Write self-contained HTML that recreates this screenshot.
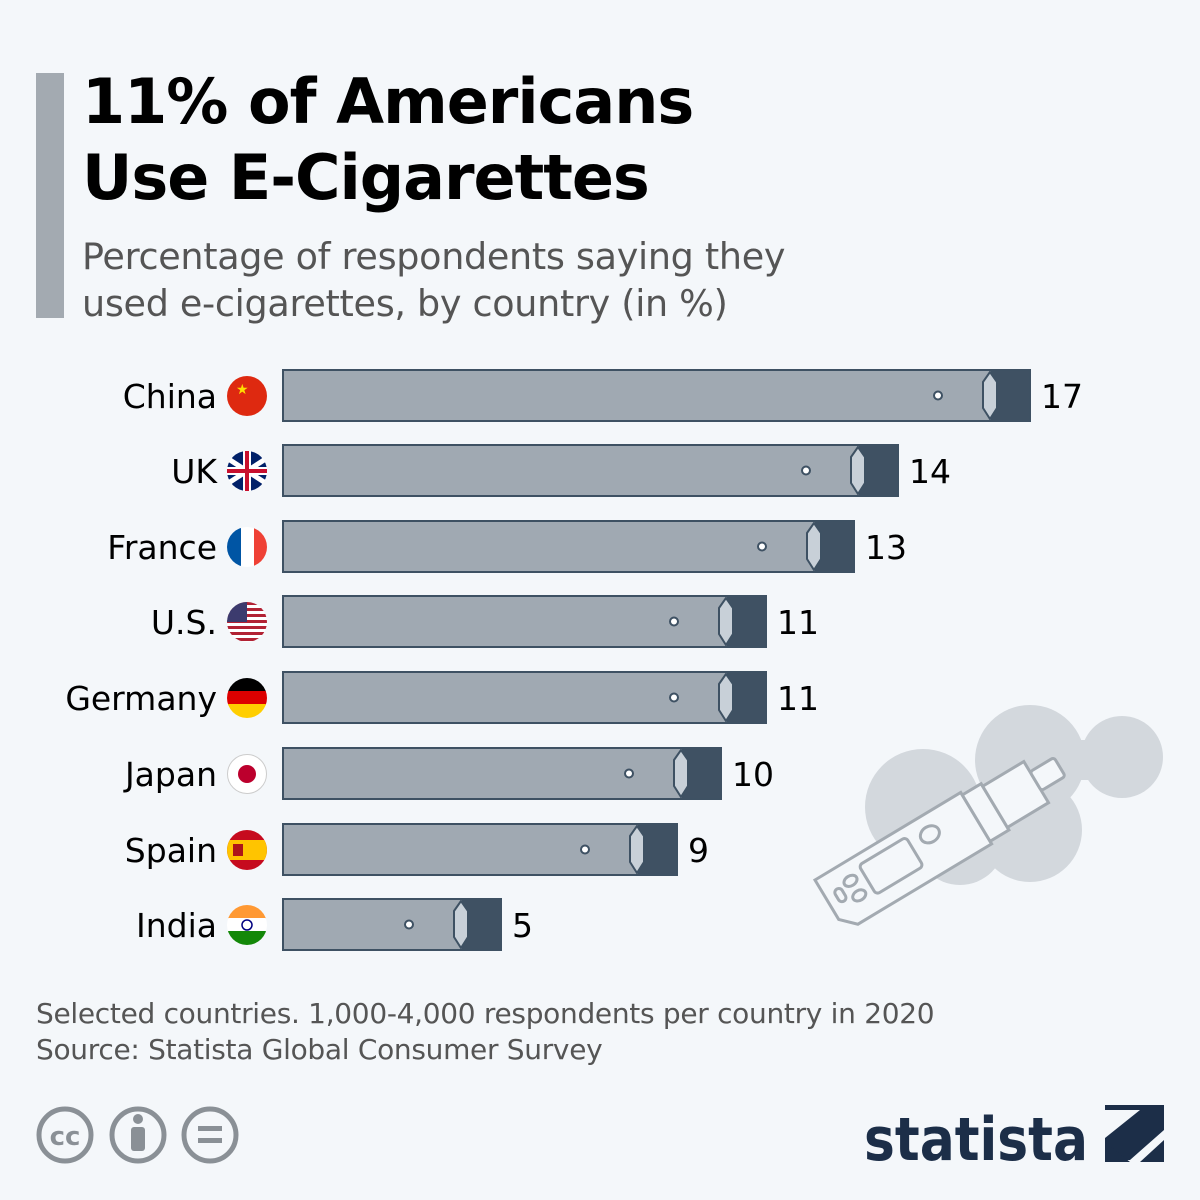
<!DOCTYPE html>
<html><head><meta charset="utf-8"><style>
body{margin:0;width:1200px;height:1200px;background:#f4f7fa;font-family:"Liberation Sans","DejaVu Sans",sans-serif;position:relative;overflow:hidden}
.t{position:absolute;left:82px;top:64px;font-size:62px;font-weight:bold;line-height:76px;color:#000;font-family:"DejaVu Sans","Liberation Sans",sans-serif;letter-spacing:-1px}
.s{position:absolute;left:82px;top:233px;font-size:36.5px;line-height:47px;color:#555;font-family:"DejaVu Sans","Liberation Sans",sans-serif;letter-spacing:-0.3px}
.bar{position:absolute;left:36px;top:73px;width:28px;height:245px;background:#a3aab1}
.f{position:absolute;left:36px;top:996px;font-size:28px;line-height:36px;color:#555;font-family:"DejaVu Sans","Liberation Sans",sans-serif;letter-spacing:-0.3px}
</style></head><body>
<div class="bar"></div>
<div class="t">11% of Americans<br>Use E-Cigarettes</div>
<div class="s">Percentage of respondents saying they<br>used e-cigarettes, by country (in %)</div>
<svg width="1200" height="1200" style="position:absolute;left:0;top:0" font-family="DejaVu Sans, Liberation Sans, sans-serif">
<g fill="#d3d8dd">
<circle cx="923" cy="807" r="58"/><circle cx="1030" cy="760" r="55"/><circle cx="1122" cy="757" r="41"/><circle cx="1030" cy="830" r="52"/><circle cx="960" cy="840" r="45"/><rect x="1030" y="740" width="90" height="40"/>
</g>
<g transform="translate(815,880) rotate(-31)" fill="#f4f7fa" stroke="#a3aab1" stroke-width="3">
<path d="M0,0 L170,0 L170,60 L14,60 L0,46 Z"/>
<rect x="10" y="19" width="8" height="14" rx="4"/>
<ellipse cx="30" cy="19" rx="7" ry="5"/><ellipse cx="30" cy="36" rx="7" ry="5"/>
<rect x="45" y="10" width="55" height="34" rx="4"/>
<ellipse cx="122" cy="20" rx="10" ry="8"/>
<rect x="170" y="3" width="22" height="54"/>
<rect x="192" y="6" width="48" height="48"/>
<rect x="240" y="18" width="28" height="22" rx="3"/>
</g>
<g font-size="33" fill="#000" text-anchor="end">
<text x="217" y="408">China</text><text x="217" y="483">UK</text><text x="217" y="559">France</text><text x="217" y="634">U.S.</text><text x="217" y="710">Germany</text><text x="217" y="786">Japan</text><text x="217" y="862">Spain</text><text x="217" y="937">India</text>
</g>
<g>
<circle cx="247" cy="396" r="20" fill="#de2910"/><text x="236" y="394" font-size="14" fill="#ffde00">★</text>
<circle cx="247" cy="471" r="20" fill="#012169"/><path d="M230,460 L264,482 M230,482 L264,460" stroke="#fff" stroke-width="5"/><path d="M227,471 H267 M247,451 V491" stroke="#fff" stroke-width="8"/><path d="M227,471 H267 M247,451 V491" stroke="#c8102e" stroke-width="4"/>
<clipPath id="c3"><circle cx="247" cy="547" r="20"/></clipPath><g clip-path="url(#c3)"><rect x="227" y="527" width="14" height="40" fill="#0055a4"/><rect x="241" y="527" width="13" height="40" fill="#fff"/><rect x="254" y="527" width="14" height="40" fill="#ef4135"/></g>
<clipPath id="c4"><circle cx="247" cy="622" r="20"/></clipPath><g clip-path="url(#c4)"><rect x="227" y="602" width="40" height="40" fill="#fff"/><g fill="#b22234"><rect x="227" y="602" width="40" height="3"/><rect x="227" y="608" width="40" height="3"/><rect x="227" y="614" width="40" height="3"/><rect x="227" y="620" width="40" height="3"/><rect x="227" y="626" width="40" height="3"/><rect x="227" y="632" width="40" height="3"/><rect x="227" y="638" width="40" height="3"/></g><rect x="227" y="602" width="20" height="20" fill="#3c3b6e"/></g>
<clipPath id="c5"><circle cx="247" cy="698" r="20"/></clipPath><g clip-path="url(#c5)"><rect x="227" y="678" width="40" height="14" fill="#000"/><rect x="227" y="691" width="40" height="14" fill="#dd0000"/><rect x="227" y="704" width="40" height="14" fill="#ffce00"/></g>
<circle cx="247" cy="774" r="19.5" fill="#fff" stroke="#ccc"/><circle cx="247" cy="774" r="9" fill="#bc002d"/>
<clipPath id="c7"><circle cx="247" cy="850" r="20"/></clipPath><g clip-path="url(#c7)"><rect x="227" y="830" width="40" height="40" fill="#c60b1e"/><rect x="227" y="840" width="40" height="20" fill="#ffc400"/><rect x="233" y="844" width="10" height="12" fill="#ad1519"/></g>
<clipPath id="c8"><circle cx="247" cy="925" r="20"/></clipPath><g clip-path="url(#c8)"><rect x="227" y="905" width="40" height="14" fill="#ff9933"/><rect x="227" y="918" width="40" height="14" fill="#fff"/><rect x="227" y="931" width="40" height="14" fill="#138808"/><circle cx="247" cy="925" r="5" fill="none" stroke="#000080" stroke-width="1.5"/></g>
</g>
<g stroke="#3e5163" stroke-width="2">
<g transform="translate(0,370)"><rect x="283" y="0" width="747" height="51" fill="#a0a9b2"/><rect x="992" y="0" width="38" height="51" fill="#3f5163"/><path d="M983,12 L990,2 L997,12 L997,38 L990,49 L983,38Z" fill="#c8d0d8"/><circle cx="938" cy="25.5" r="4" fill="#fff"/></g>
<g transform="translate(0,445)"><rect x="283" y="0" width="615" height="51" fill="#a0a9b2"/><rect x="860" y="0" width="38" height="51" fill="#3f5163"/><path d="M851,12 L858,2 L865,12 L865,38 L858,49 L851,38Z" fill="#c8d0d8"/><circle cx="806" cy="25.5" r="4" fill="#fff"/></g>
<g transform="translate(0,521)"><rect x="283" y="0" width="571" height="51" fill="#a0a9b2"/><rect x="816" y="0" width="38" height="51" fill="#3f5163"/><path d="M807,12 L814,2 L821,12 L821,38 L814,49 L807,38Z" fill="#c8d0d8"/><circle cx="762" cy="25.5" r="4" fill="#fff"/></g>
<g transform="translate(0,596)"><rect x="283" y="0" width="483" height="51" fill="#a0a9b2"/><rect x="728" y="0" width="38" height="51" fill="#3f5163"/><path d="M719,12 L726,2 L733,12 L733,38 L726,49 L719,38Z" fill="#c8d0d8"/><circle cx="674" cy="25.5" r="4" fill="#fff"/></g>
<g transform="translate(0,672)"><rect x="283" y="0" width="483" height="51" fill="#a0a9b2"/><rect x="728" y="0" width="38" height="51" fill="#3f5163"/><path d="M719,12 L726,2 L733,12 L733,38 L726,49 L719,38Z" fill="#c8d0d8"/><circle cx="674" cy="25.5" r="4" fill="#fff"/></g>
<g transform="translate(0,748)"><rect x="283" y="0" width="438" height="51" fill="#a0a9b2"/><rect x="683" y="0" width="38" height="51" fill="#3f5163"/><path d="M674,12 L681,2 L688,12 L688,38 L681,49 L674,38Z" fill="#c8d0d8"/><circle cx="629" cy="25.5" r="4" fill="#fff"/></g>
<g transform="translate(0,824)"><rect x="283" y="0" width="394" height="51" fill="#a0a9b2"/><rect x="639" y="0" width="38" height="51" fill="#3f5163"/><path d="M630,12 L637,2 L644,12 L644,38 L637,49 L630,38Z" fill="#c8d0d8"/><circle cx="585" cy="25.5" r="4" fill="#fff"/></g>
<g transform="translate(0,899)"><rect x="283" y="0" width="218" height="51" fill="#a0a9b2"/><rect x="463" y="0" width="38" height="51" fill="#3f5163"/><path d="M454,12 L461,2 L468,12 L468,38 L461,49 L454,38Z" fill="#c8d0d8"/><circle cx="409" cy="25.5" r="4" fill="#fff"/></g>
</g>
<g font-size="33" fill="#000">
<text x="1041" y="408">17</text><text x="909" y="483">14</text><text x="865" y="559">13</text><text x="777" y="634">11</text><text x="777" y="710">11</text><text x="732" y="786">10</text><text x="688" y="862">9</text><text x="512" y="937">5</text>
</g>
<g fill="none" stroke="#8a9096" stroke-width="5">
<circle cx="65" cy="1135" r="26"/><circle cx="138" cy="1135" r="26"/><circle cx="210" cy="1135" r="26"/>
</g>
<text x="65" y="1145" font-size="26" font-weight="bold" fill="#8a9096" text-anchor="middle">cc</text>
<circle cx="138" cy="1119" r="5" fill="#8a9096"/><rect x="131" y="1127" width="14" height="24" rx="3" fill="#8a9096"/>
<rect x="198" y="1126" width="24" height="5" fill="#8a9096"/><rect x="198" y="1138" width="24" height="5" fill="#8a9096"/>
<text x="864" y="1160" font-size="60" font-weight="bold" fill="#1c2e48" textLength="224" lengthAdjust="spacingAndGlyphs">statista</text>
<path d="M1105,1105 H1164 V1130 L1130,1160 H1105 V1138 L1140,1110 H1105Z" fill="#1c2e48"/>
<path d="M1105,1162 V1142 L1130,1162Z M1164,1162 H1140 L1164,1140Z" fill="#1c2e48"/>
</svg>
<div class="f">Selected countries. 1,000-4,000 respondents per country in 2020<br>Source: Statista Global Consumer Survey</div>
</body></html>
